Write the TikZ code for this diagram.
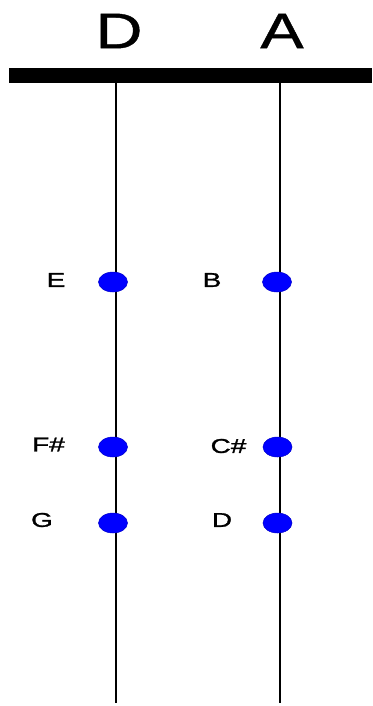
\documentclass[tikz,border=0pt]{standalone}
\usepackage{fontspec}
\setmainfont{Liberation Sans}
\newfontface\headsans[FakeBold=0.8]{Liberation Sans}
\newfontface\notesans[FakeBold=1.2]{Liberation Sans}
\usetikzlibrary{shapes.geometric}
\begin{document}
\begin{tikzpicture}[x=1pt,y=-1pt,
    string/.style={line width=1.6pt},
    dot/.style={ellipse,fill=blue,draw=blue!80!black,line width=0.5pt,minimum width=29pt,minimum height=20pt,inner sep=0pt},
    note/.style={font=\notesans\fontsize{20}{20}\selectfont,xscale=1.4,inner sep=0pt},
    head/.style={font=\headsans\fontsize{50}{50}\selectfont,xscale=1.3,inner sep=0pt}]
    \useasboundingbox (0,0) rectangle (372,706);

    % String names
    \node[head] (nameD) at (119,31) {D};
    \node[head] (nameA) at (282,31) {A};

    % Nut
    \coordinate (nutL) at (9,75.5);
    \coordinate (nutR) at (372,75.5);
    \draw[line width=15pt] (nutL) -- (nutR);

    % Strings
    \coordinate (topD) at (116,83);
    \coordinate (botD) at (116,703);
    \coordinate (topA) at (280,83);
    \coordinate (botA) at (280,703);
    \draw[string] (topD) -- (botD);
    \draw[string] (topA) -- (botA);

    % Fingers on D
    \node[dot] (E) at (113,282) {};
    \node[dot] (Fs) at (113,447) {};
    \node[dot] (G) at (113,523) {};
    \node[note] (labE) at (56,280) {E};
    \node[note] (labFs) at (48.5,444.5) {F\#};
    \node[note] (labG) at (42,520) {G};

    % Fingers on A
    \node[dot] (B) at (277,282) {};
    \node[dot] (Cs) at (277.5,447) {};
    \node[dot] (D) at (277.5,523) {};
    \node[note] (labB) at (212,280) {B};
    \node[note] (labCs) at (228.5,446) {C\#};
    \node[note] (labD) at (222,520) {D};
\end{tikzpicture}
\end{document}
